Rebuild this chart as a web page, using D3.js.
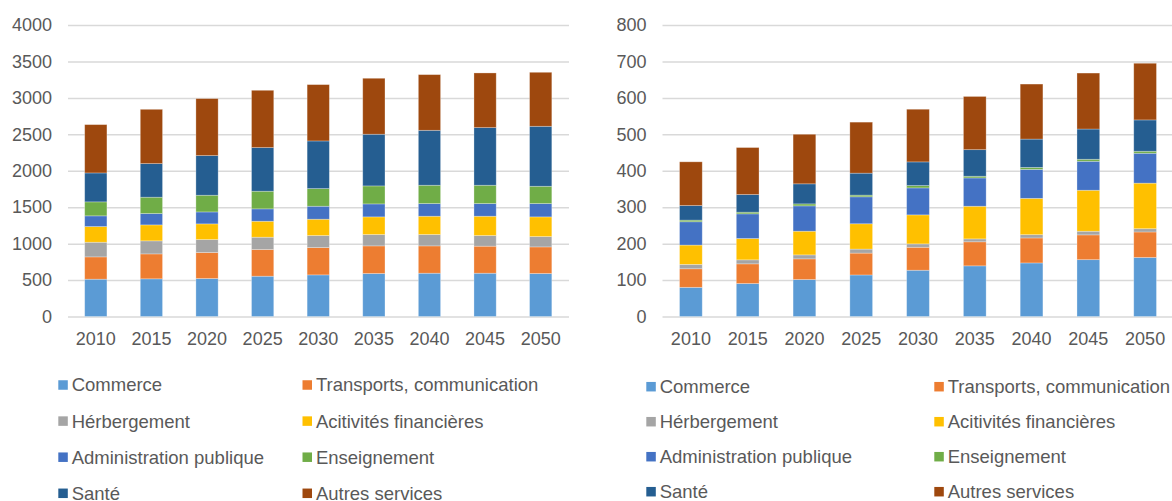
<!DOCTYPE html>
<html>
<head>
<meta charset="utf-8">
<script src="https://cdn.jsdelivr.net/npm/d3@7"></script>
<style>
  body { margin: 0; background: #fff; }
  svg text { font-family: "Liberation Sans", Arial, sans-serif; fill: #595959; }
</style>
</head>
<body>
<svg width="1172" height="501"></svg>
<script>
var years = ["2010", "2015", "2020", "2025", "2030", "2035", "2040", "2045", "2050"];
var sectors = ["Commerce", "Transports, communication", "Hérbergement", "Acitivités financières",
               "Administration publique", "Enseignement", "Santé", "Autres services"];
var colors = ["#5b9bd5", "#ed7d31", "#a5a5a5", "#ffc000", "#4472c4", "#70ad47", "#255e91", "#9e480e"];

// left chart, one array per sector (same order as sectors)
var leftValues = [
  [512, 517, 521, 553, 571, 590, 594, 594, 590],
  [306, 342, 357, 366, 375, 379, 375, 371, 365],
  [201, 179, 178, 169, 165, 156, 156, 146, 142],
  [215, 219, 215, 219, 224, 242, 251, 265, 270],
  [147, 156, 164, 170, 178, 178, 174, 174, 183],
  [192, 224, 229, 242, 242, 247, 251, 251, 237],
  [397, 461, 544, 599, 654, 709, 754, 791, 823],
  [663, 745, 782, 786, 773, 768, 764, 750, 741]
];
var leftTicks = [0, 500, 1000, 1500, 2000, 2500, 3000, 3500, 4000];

// right chart
var rightValues = [
  [80, 90.5, 101.5, 114, 127, 139, 147, 156, 162],
  [51, 54, 56.7, 60, 63, 66, 68.6, 68, 70],
  [12, 11, 10.9, 11, 9.3, 8, 9, 10, 9],
  [53, 58.5, 65, 69.5, 79.6, 89.6, 99.6, 112.5, 125],
  [64, 67.7, 69.5, 74, 74, 77.7, 79.5, 79.5, 82],
  [4.5, 4.6, 5.5, 4.6, 6.4, 4.6, 5.5, 5.5, 5.5],
  [40, 48.4, 55, 60.3, 65, 73, 77.7, 83, 86],
  [120, 129, 136, 140, 144.5, 146, 151, 153.6, 155.5]
];
var rightTicks = [0, 100, 200, 300, 400, 500, 600, 700, 800];

var svg = d3.select("svg");

function drawChart(values, ticks, o) {
  var rows = years.map(function(yr, i) {
    var r = {year: yr};
    sectors.forEach(function(s, k) { r[s] = values[k][i]; });
    return r;
  });
  var stack = d3.stack().keys(sectors)(rows);

  var x = d3.scaleBand().domain(years).range([o.x0, o.x1]).paddingInner(0.6).paddingOuter(0.3);
  var y = d3.scaleLinear().domain([0, ticks[ticks.length - 1]]).range([316.5, 25]);

  var g = svg.append("g");

  var yAxis = g.append("g")
      .attr("transform", "translate(" + o.x0 + ",0)")
      .call(d3.axisLeft(y).tickValues(ticks).tickSize(-(o.gridEnd - o.x0)).tickPadding(16).tickFormat(d3.format("d")));
  yAxis.select(".domain").remove();
  yAxis.selectAll("line").attr("stroke", "#d9d9d9").attr("stroke-width", 1.5);
  yAxis.selectAll("text").attr("font-size", "18px").style("fill", "#595959");

  g.selectAll("g.layer")
    .data(stack)
    .enter().append("g")
      .attr("class", "layer")
      .attr("fill", function(d, i) { return colors[i]; })
    .selectAll("rect")
    .data(function(d) { return d; })
    .enter().append("rect")
      .attr("x", function(d) { return x(d.data.year); })
      .attr("width", x.bandwidth())
      .attr("y", function(d) { return y(d[1]); })
      .attr("height", function(d) { return y(d[0]) - y(d[1]); })
      .attr("stroke", "#ffffff")
      .attr("stroke-opacity", 0.35)
      .attr("stroke-width", 0.8);

  var xAxis = g.append("g")
      .attr("transform", "translate(0,316.5)")
      .call(d3.axisBottom(x).tickSize(0).tickPadding(16));
  xAxis.select(".domain").remove();
  xAxis.selectAll("text").attr("font-size", "18px").style("fill", "#595959");

  var leg = g.selectAll("g.leg")
    .data(sectors)
    .enter().append("g")
      .attr("class", "leg")
      .attr("transform", function(d, i) {
        var col = i % 2, row = Math.floor(i / 2);
        return "translate(" + (col ? o.legX2 : o.legX1) + "," + (o.legY + row * o.legDy) + ")";
      });
  leg.append("rect")
      .attr("x", 0).attr("y", -4.75)
      .attr("width", 9.5).attr("height", 9.5)
      .attr("fill", function(d, i) { return colors[i]; });
  leg.append("text")
      .attr("x", 13.4)
      .attr("dy", "0.35em")
      .attr("font-size", "18.5px")
      .text(function(d) { return d; });
}

drawChart(leftValues, leftTicks, {x0: 68, x1: 568.5, gridEnd: 569, legX1: 58.3, legX2: 302.5, legY: 385, legDy: 36.1});
drawChart(rightValues, rightTicks, {x0: 662.5, x1: 1173.5, gridEnd: 1172, legX1: 646.3, legX2: 934.3, legY: 386.7, legDy: 35});
</script>
</body>
</html>
